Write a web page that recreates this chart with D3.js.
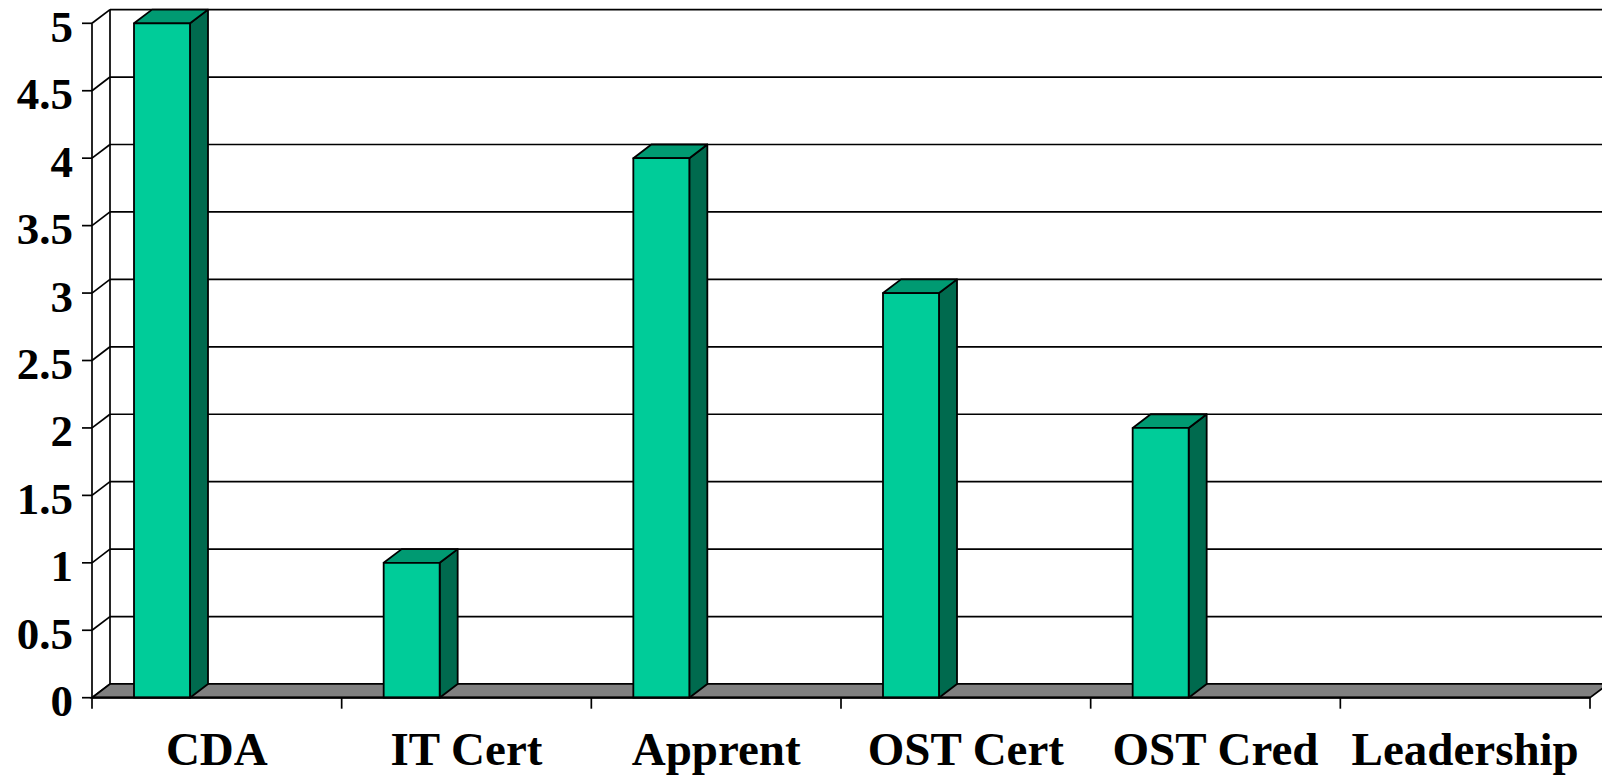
<!DOCTYPE html>
<meta charset="utf-8">
<style>
  body { margin: 0; background: #fff; }
  text { font-family: "Liberation Serif", "Times New Roman", serif; font-weight: bold; fill: #000; }
</style>
<svg width="1602" height="775"></svg>
<script src="https://cdnjs.cloudflare.com/ajax/libs/d3/7.8.5/d3.min.js"></script>
<script>
var categories = ["CDA", "IT Cert", "Apprent", "OST Cert", "OST Cred", "Leadership"];
var values = [5, 1, 4, 3, 2, 0];
var yTicks = [0, 0.5, 1, 1.5, 2, 2.5, 3, 3.5, 4, 4.5, 5];

var svg = d3.select("svg"),
    plotLeft = 92, plotRight = 1590,
    plotBottom = 697.7, plotTop = 23.3,
    dx = 18, dy = -13.7;   // depth of the 3d box

var x = d3.scaleBand().domain(categories).range([plotLeft, plotRight]).padding(0);
var y = d3.scaleLinear().domain([0, 5]).range([plotBottom, plotTop]);

var g = svg.append("g");

// back wall gridlines + left wall diagonals
yTicks.forEach(function(t) {
  g.append("line")
    .attr("x1", plotLeft + dx).attr("x2", 1602 + 20)
    .attr("y1", y(t) + dy).attr("y2", y(t) + dy)
    .attr("stroke", "#000").attr("stroke-width", t === 0 ? 2.2 : 1.7);
  g.append("line")
    .attr("x1", plotLeft).attr("y1", y(t))
    .attr("x2", plotLeft + dx).attr("y2", y(t) + dy)
    .attr("stroke", "#000").attr("stroke-width", 1.7);
});

// back wall left edge
g.append("line")
  .attr("x1", plotLeft + dx).attr("x2", plotLeft + dx)
  .attr("y1", y(5) + dy).attr("y2", y(0) + dy)
  .attr("stroke", "#000").attr("stroke-width", 1.7);

// floor
g.append("path")
  .attr("d", d3.line()([[plotLeft, plotBottom], [plotRight, plotBottom], [plotRight + dx, plotBottom + dy], [plotLeft + dx, plotBottom + dy]]) + "Z")
  .attr("fill", "#808080").attr("stroke", "#000").attr("stroke-width", 1.7);

// bars
var bw = 56, off = 42;
categories.forEach(function(c, i) {
  var v = values[i];
  if (!v) return;
  var x0 = x(c) + off, x1 = x0 + bw, yt = y(v), yb = y(0);
  var bar = g.append("g").attr("stroke", "#000").attr("stroke-width", 1.8).attr("stroke-linejoin", "round");
  bar.append("path")
    .attr("d", d3.line()([[x1, yb], [x1 + dx, yb + dy], [x1 + dx, yt + dy], [x1, yt]]) + "Z")
    .attr("fill", "#006a4e");
  bar.append("path")
    .attr("d", d3.line()([[x0, yt], [x1, yt], [x1 + dx, yt + dy], [x0 + dx, yt + dy]]) + "Z")
    .attr("fill", "#009a72");
  bar.append("rect")
    .attr("x", x0).attr("y", yt).attr("width", bw).attr("height", yb - yt)
    .attr("fill", "#00cc99");
});

// y axis
var yAxis = g.append("g");
yAxis.append("line")
  .attr("x1", plotLeft).attr("x2", plotLeft).attr("y1", y(5)).attr("y2", plotBottom + 11)
  .attr("stroke", "#000").attr("stroke-width", 1.7);
yTicks.forEach(function(t) {
  yAxis.append("line")
    .attr("x1", plotLeft - 10).attr("x2", plotLeft).attr("y1", y(t)).attr("y2", y(t))
    .attr("stroke", "#000").attr("stroke-width", 1.7);
  yAxis.append("text")
    .attr("x", plotLeft - 19).attr("y", y(t) + 18.5)
    .attr("text-anchor", "end").attr("font-size", 45)
    .text(t);
});

// x axis
var xAxis = g.append("g");
xAxis.append("line")
  .attr("x1", plotLeft).attr("x2", plotRight).attr("y1", plotBottom).attr("y2", plotBottom)
  .attr("stroke", "#000").attr("stroke-width", 2.2);
categories.forEach(function(c) {
  xAxis.append("line")
    .attr("x1", x(c) + x.bandwidth()).attr("x2", x(c) + x.bandwidth())
    .attr("y1", plotBottom).attr("y2", plotBottom + 11)
    .attr("stroke", "#000").attr("stroke-width", 1.7);
  xAxis.append("text")
    .attr("x", x(c) + x.bandwidth() / 2).attr("y", 765)
    .attr("text-anchor", "middle").attr("font-size", 47)
    .text(c);
});
</script>
